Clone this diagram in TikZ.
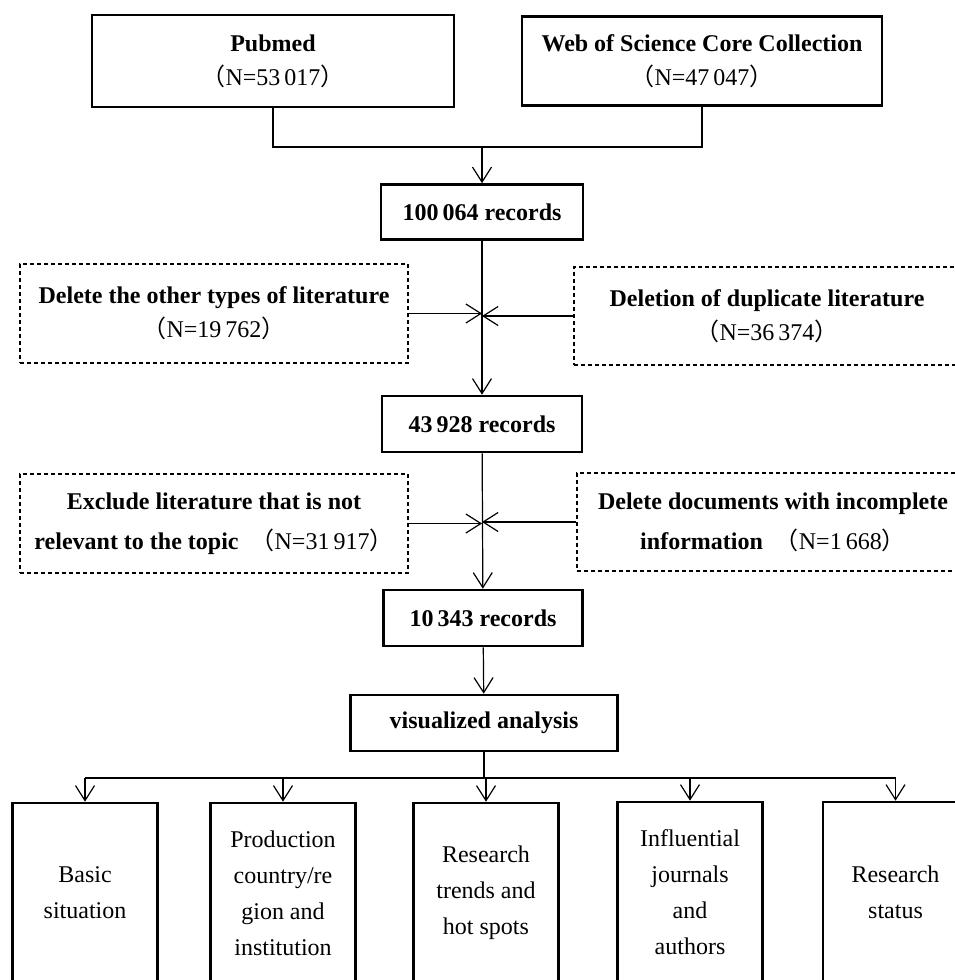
\documentclass[tikz,border=0pt]{standalone}
\usepackage{fontspec}
\setmainfont{Liberation Serif}
\newfontfamily\cjk{Noto Sans CJK SC}
\usetikzlibrary{arrows.meta,positioning}
\newcommand\fwl{{\cjk （}}
\newcommand\fwr{{\cjk ）}}
\begin{document}
\begin{tikzpicture}[x=1pt,y=-1pt,line width=1.2pt,
  font=\fontsize{24}{34}\selectfont,
  >={Straight Barb[length=15pt,width=19pt]},
  srcbox/.style={draw,line width=2.6pt,align=center,inner sep=0pt},
  exclbox/.style={draw,dash pattern=on 4pt off 3pt,line width=1.3pt,align=center,inner sep=0pt},
  outbox/.style={draw,line width=2.6pt,align=center,inner sep=0pt,
    minimum width=145pt,minimum height=180pt,font=\fontsize{24}{36}\selectfont}]
  \useasboundingbox (0,0) rectangle (955,980);
  \node[srcbox,minimum width=362pt,minimum height=92pt] (pub) at (273,61)
    {\textbf{Pubmed}\\\fwl N=53\,017\fwr};
  \node[srcbox,minimum width=360pt,minimum height=89pt] (wos) at (702,61)
    {\textbf{Web of Science Core Collection}\\\fwl N=47\,047\fwr};
  \coordinate (j1) at (482,147);
  \node[srcbox,minimum width=202pt,minimum height=55pt,font=\fontsize{24}{34}\selectfont\bfseries] (rec1) at (482,212) {100\,064 records};
  \node[exclbox,minimum width=388pt,minimum height=99pt] (oth) at (214,313.5)
    {\textbf{Delete the other types of literature}\\\fwl N=19\,762\fwr};
  \node[exclbox,minimum width=386pt,minimum height=98pt] (dup) at (767,316)
    {\textbf{Deletion of duplicate literature}\\\fwl N=36\,374\fwr};
  \node[srcbox,minimum width=200pt,minimum height=56pt,font=\fontsize{24}{34}\selectfont\bfseries] (rec2) at (482,424) {43\,928 records};
  \node[exclbox,minimum width=388pt,minimum height=99pt] (irr) at (214,523.5)
    {\textbf{Exclude literature that is not}\\[6pt]\textbf{relevant to the topic}\enspace\fwl N=31\,917\fwr};
  \node[exclbox,minimum width=392pt,minimum height=98pt] (inc) at (773,522)
    {\textbf{Delete documents with incomplete}\\[6pt]\textbf{information}\enspace\fwl N=1\,668\fwr};
  \node[srcbox,minimum width=199pt,minimum height=56pt,font=\fontsize{24}{34}\selectfont\bfseries] (rec3) at (483,618) {10\,343 records};
  \node[srcbox,minimum width=267pt,minimum height=56pt,font=\fontsize{24}{34}\selectfont\bfseries] (vis) at (484,723) {visualized analysis};
  \coordinate (j2) at (484,778);
  \node[outbox] (b1) at (85,893) {Basic\\situation};
  \node[outbox] (b2) at (283,893) {Production\\country/re\\gion and\\institution};
  \node[outbox] (b3) at (486,893) {Research\\trends and\\hot spots};
  \node[outbox] (b4) at (690,892) {Influential\\journals\\and\\authors};
  \node[outbox] (b5) at (895.5,892) {Research\\status};
  \draw (pub.south) |- (j1) -| (wos.south);
  \draw[->] (j1) -- (rec1);
  \draw[->] (rec1) -- (rec2);
  \draw[->] (oth.east) -- (oth.east -| rec1.south);
  \draw[->] (dup.west) -- (dup.west -| rec1.south);
  \draw[->] (rec2) -- (rec3);
  \draw[->] (irr.east) -- (irr.east -| rec2.south);
  \draw[->] (inc.west) -- (inc.west -| rec2.south);
  \draw[->] (rec3) -- (vis);
  \draw (vis) -- (j2);
  \draw (b1.north |- j2) -- (b5.north |- j2);
  \foreach \b in {b1,b2,b3,b4,b5}
    \draw[->] (\b.north |- j2) -- (\b);
\end{tikzpicture}
\end{document}
